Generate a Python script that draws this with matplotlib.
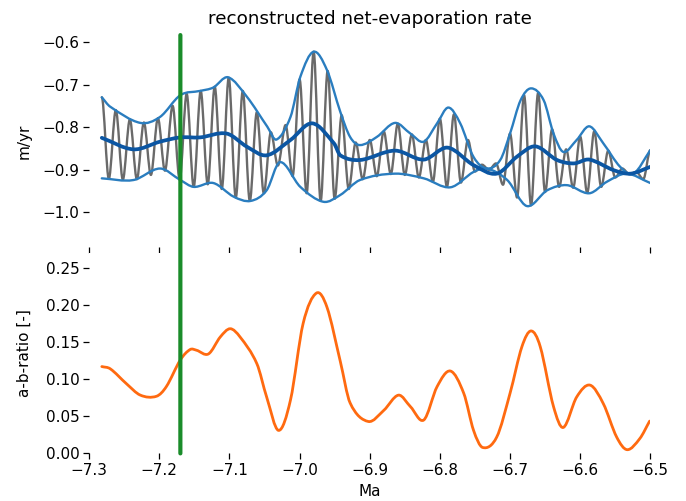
import matplotlib
matplotlib.use("Agg")
from matplotlib import pyplot as plt
from matplotlib.patches import ConnectionPatch, PathPatch
from matplotlib.path import Path

# grey signal: peaks and troughs (Ma, m/yr)
peak_ma = [-7.282, -7.262, -7.242, -7.222, -7.202, -7.181, -7.161, -7.141, -7.121, -7.101,
           -7.081, -7.061, -7.041, -7.020, -7.000, -6.980, -6.960, -6.940, -6.920, -6.900,
           -6.880, -6.860, -6.840, -6.820, -6.800, -6.780, -6.760, -6.740, -6.720, -6.700,
           -6.680, -6.660, -6.640, -6.620, -6.600, -6.580, -6.560, -6.540, -6.520, -6.500]
peak_val = [-0.730, -0.760, -0.782, -0.789, -0.779, -0.750, -0.722, -0.715, -0.705, -0.684,
            -0.715, -0.765, -0.812, -0.795, -0.688, -0.623, -0.668, -0.772, -0.836, -0.830,
            -0.810, -0.792, -0.817, -0.830, -0.780, -0.770, -0.830, -0.888, -0.885, -0.815,
            -0.725, -0.720, -0.805, -0.852, -0.822, -0.810, -0.855, -0.897, -0.905, -0.854]
trough_ma = [-7.272, -7.252, -7.232, -7.212, -7.192, -7.171, -7.151, -7.131, -7.111, -7.091,
             -7.071, -7.051, -7.031, -7.010, -6.990, -6.970, -6.950, -6.930, -6.910, -6.890,
             -6.870, -6.850, -6.830, -6.810, -6.790, -6.770, -6.750, -6.730, -6.710, -6.690,
             -6.670, -6.650, -6.630, -6.610, -6.590, -6.570, -6.550, -6.530, -6.510]
trough_val = [-0.921, -0.923, -0.922, -0.912, -0.902, -0.923, -0.940, -0.934, -0.945, -0.965,
              -0.973, -0.955, -0.890, -0.915, -0.955, -0.973, -0.968, -0.945, -0.922, -0.915,
              -0.910, -0.912, -0.918, -0.928, -0.940, -0.930, -0.904, -0.900, -0.935, -0.965,
              -0.983, -0.952, -0.940, -0.942, -0.954, -0.940, -0.918, -0.910, -0.922]

# upper envelope
upper_ma = [-7.282, -7.270, -7.227, -7.199, -7.170, -7.142, -7.123, -7.102, -7.075, -7.046,
            -7.033, -7.013, -6.999, -6.980, -6.961, -6.942, -6.928, -6.914, -6.890, -6.864,
            -6.842, -6.823, -6.804, -6.788, -6.771, -6.752, -6.733, -6.714, -6.700, -6.685,
            -6.670, -6.652, -6.638, -6.624, -6.605, -6.587, -6.567, -6.543, -6.524, -6.500]
upper_val = [-0.730, -0.752, -0.790, -0.776, -0.725, -0.715, -0.707, -0.683, -0.729, -0.799,
             -0.829, -0.776, -0.682, -0.623, -0.666, -0.764, -0.823, -0.842, -0.823, -0.790,
             -0.815, -0.834, -0.791, -0.754, -0.791, -0.870, -0.897, -0.877, -0.815, -0.737,
             -0.709, -0.737, -0.815, -0.858, -0.830, -0.798, -0.838, -0.893, -0.909, -0.854]

# lower envelope
lower_ma = [-7.282, -7.237, -7.199, -7.170, -7.151, -7.123, -7.094, -7.070, -7.047, -7.028,
            -6.999, -6.966, -6.942, -6.914, -6.864, -6.823, -6.785, -6.752, -6.733, -6.704,
            -6.676, -6.647, -6.619, -6.587, -6.562, -6.534, -6.500]
lower_val = [-0.920, -0.924, -0.897, -0.924, -0.940, -0.931, -0.963, -0.973, -0.948, -0.882,
             -0.940, -0.975, -0.959, -0.924, -0.909, -0.920, -0.941, -0.905, -0.897, -0.924,
             -0.985, -0.948, -0.936, -0.955, -0.928, -0.909, -0.931]

# running mean
mean_ma = [-7.282, -7.237, -7.199, -7.170, -7.142, -7.104, -7.075, -7.047, -7.013, -6.982,
           -6.951, -6.942, -6.914, -6.864, -6.823, -6.789, -6.752, -6.719, -6.690, -6.664,
           -6.633, -6.609, -6.587, -6.552, -6.528, -6.500]
mean_val = [-0.825, -0.852, -0.834, -0.824, -0.824, -0.815, -0.846, -0.866, -0.830, -0.791,
            -0.838, -0.866, -0.877, -0.855, -0.876, -0.848, -0.889, -0.909, -0.869, -0.845,
            -0.877, -0.885, -0.876, -0.901, -0.909, -0.893]

# a-b-ratio
ratio_ma = [-7.282, -7.270, -7.247, -7.227, -7.204, -7.190, -7.170, -7.156, -7.147, -7.130,
            -7.113, -7.099, -7.085, -7.061, -7.047, -7.030, -7.013, -6.995, -6.976, -6.961,
            -6.942, -6.928, -6.902, -6.880, -6.859, -6.842, -6.823, -6.804, -6.785, -6.766,
            -6.752, -6.739, -6.719, -6.700, -6.683, -6.670, -6.657, -6.638, -6.624, -6.605,
            -6.586, -6.567, -6.548, -6.533, -6.515, -6.501]
ratio_val = [0.117, 0.114, 0.094, 0.0785, 0.077, 0.090, 0.126, 0.140, 0.139, 0.134,
             0.157, 0.168, 0.157, 0.121, 0.076, 0.031, 0.072, 0.175, 0.216, 0.197,
             0.124, 0.068, 0.043, 0.058, 0.0785, 0.063, 0.045, 0.090, 0.111, 0.081,
             0.031, 0.008, 0.022, 0.081, 0.144, 0.165, 0.144, 0.063, 0.035, 0.076,
             0.092, 0.067, 0.022, 0.005, 0.020, 0.0435]

marker_ma = -7.17


# draw a smooth curve through the points (cubic bezier segments)
def smooth_curve(ax, xs, ys, flat=False, **kw):
    n = len(xs)
    slopes = []
    for i in range(n):
        if flat:
            slopes.append(0.0)
        else:
            a = max(i - 1, 0)
            b = min(i + 1, n - 1)
            slopes.append((ys[b] - ys[a]) / (xs[b] - xs[a]))
    verts = [(xs[0], ys[0])]
    codes = [Path.MOVETO]
    for i in range(n - 1):
        dx = (xs[i + 1] - xs[i]) / 3
        verts += [(xs[i] + dx, ys[i] + slopes[i] * dx),
                  (xs[i + 1] - dx, ys[i + 1] - slopes[i + 1] * dx),
                  (xs[i + 1], ys[i + 1])]
        codes += [Path.CURVE4] * 3
    patch = PathPatch(Path(verts, codes), fill=False, capstyle="round", joinstyle="round", **kw)
    ax.add_patch(patch)


plt.rcParams["font.size"] = 11

fig = plt.figure(figsize=(6.86, 5.01), dpi=100)
ax1 = fig.add_axes([0.130, 0.507, 0.818, 0.423])
ax2 = fig.add_axes([0.130, 0.095, 0.818, 0.400], sharex=ax1)

# alternate through the turning points
grey_ma, grey_val = [], []
for i in range(len(peak_ma)):
    grey_ma.append(peak_ma[i])
    grey_val.append(peak_val[i])
    if i < len(trough_ma):
        grey_ma.append(trough_ma[i])
        grey_val.append(trough_val[i])

smooth_curve(ax1, grey_ma, grey_val, flat=True, edgecolor="#6a6a6a", lw=1.7)
smooth_curve(ax1, upper_ma, upper_val, edgecolor="#2a7dbf", lw=1.7)
smooth_curve(ax1, lower_ma, lower_val, edgecolor="#2a7dbf", lw=1.7)
smooth_curve(ax1, mean_ma, mean_val, edgecolor="#0b56a3", lw=2.7)
ax1.set_ylim(-1.081, -0.584)
ax1.set_yticks([-1.0, -0.9, -0.8, -0.7, -0.6])
ax1.set_ylabel("m/yr")
ax1.set_title("reconstructed net-evaporation rate", fontsize=13.2, pad=8)
ax1.tick_params(labelbottom=False)

smooth_curve(ax2, ratio_ma, ratio_val, edgecolor="#ff6a10", lw=2)
ax2.set_ylim(0, 0.27)
ax2.set_yticks([0.0, 0.05, 0.10, 0.15, 0.20, 0.25])
ax2.set_xlim(-7.3, -6.5)
ax2.set_xticks([-7.3, -7.2, -7.1, -7.0, -6.9, -6.8, -6.7, -6.6, -6.5])
ax2.set_xlabel("Ma")
ax2.set_ylabel("a-b-ratio [-]")

for ax in (ax1, ax2):
    for s in ax.spines.values():
        s.set_visible(False)
    ax.tick_params(length=4, width=0.9, pad=3)
    ax.yaxis.set_label_coords(-0.102, 0.5)

# green marker across both panels
line = ConnectionPatch(xyA=(marker_ma, 1), coordsA=ax1.get_xaxis_transform(),
                       xyB=(marker_ma, 0), coordsB=ax2.get_xaxis_transform(),
                       color="#1a8c2a", lw=3)
fig.add_artist(line)

plt.savefig("out.png", dpi=100)
plt.close()
